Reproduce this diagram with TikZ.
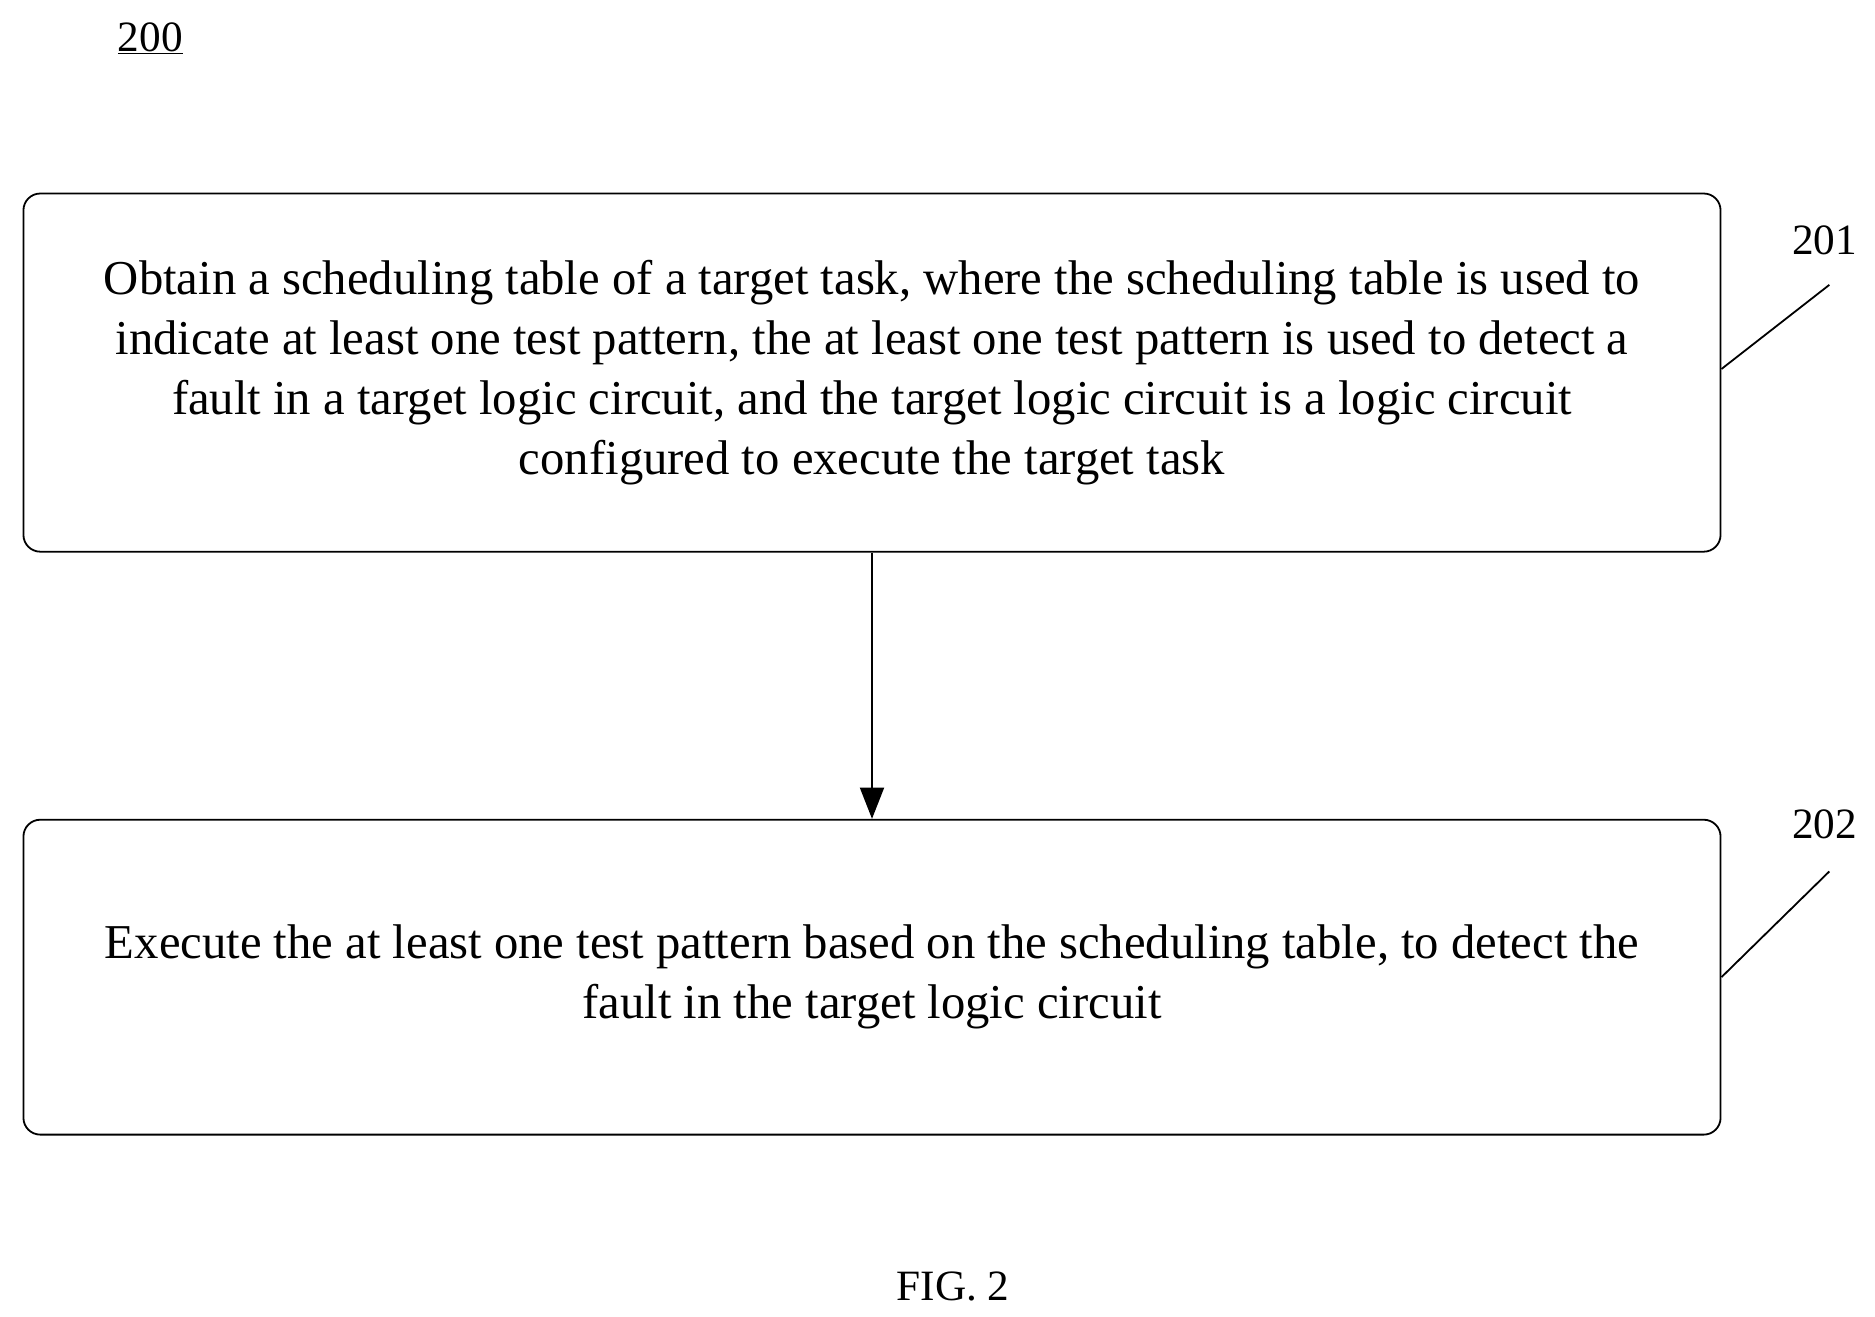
\documentclass[tikz,border=0pt]{standalone}
\usepackage{fontspec}
\setmainfont{Liberation Serif}
\usetikzlibrary{arrows.meta}
\tikzset{every picture/.style={line width=1.5pt},
  stepbox/.style={draw, rounded corners=14pt, minimum width=1412pt, align=center,
    font=\fontsize{40.5}{50}\selectfont},
  reflabel/.style={font=\fontsize{36}{42}\selectfont}}
\begin{document}
\begin{tikzpicture}[x=1pt,y=1pt,yscale=-1,xscale=1]
    \useasboundingbox (0,0) rectangle (1560,1095);

    %Figure number
    \node (num) at (125,32) {\fontsize{36}{42}\selectfont\underline{200}};

    %Shape: step 201
    \node [stepbox, minimum height=298pt] (step1) at (725.5,310) {Obtain a scheduling table of a target task, where the scheduling table is used to\\indicate at least one test pattern, the at least one test pattern is used to detect a\\fault in a target logic circuit, and the target logic circuit is a logic circuit\\configured to execute the target task};
    %Shape: step 202
    \node [stepbox, minimum height=262pt] (step2) at (725.5,813) {Execute the at least one test pattern based on the scheduling table, to detect the\\fault in the target logic circuit};

    %Straight Lines
    \draw [-{Triangle[length=26pt,width=20pt]}] (step1.south) -- (step2.north);

    %Leader lines and labels
    \node [reflabel] (lab1) at (1518,200) {201};
    \coordinate (lead1) at (1522,237);
    \draw (step1.east) ++(0,-3) -- (lead1);
    \node [reflabel] (lab2) at (1518,686) {202};
    \coordinate (lead2) at (1522,725);
    \draw (step2.east) -- (lead2);

    % Text Node
    \node [reflabel] (cap) at (793,1070) {FIG. 2};
\end{tikzpicture}
\end{document}
